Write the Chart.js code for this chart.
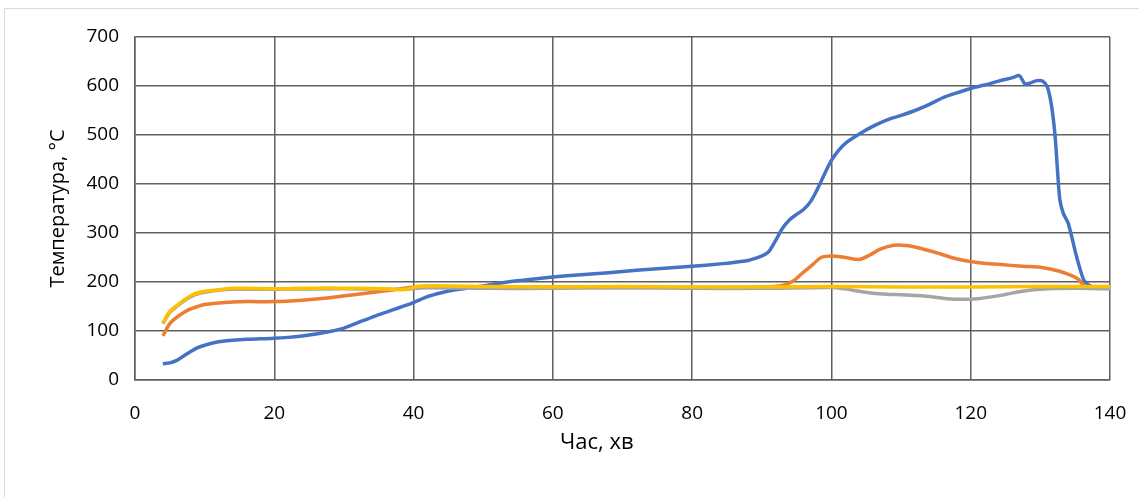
<!DOCTYPE html>
<html>
<head>
<meta charset="utf-8">
<script src="https://cdn.jsdelivr.net/npm/chart.js@4"></script>
<style>
  body { margin: 0; background: #fff; }
  #frame { position: absolute; left: 4px; top: 8px; width: 1140px; height: 500px;
           border-left: 1px solid #d9d9d9; border-top: 1px solid #d9d9d9; }
  #tempChart { position: absolute; left: 0; top: 0; }
</style>
</head>
<body>
<div id="frame"></div>
<canvas id="tempChart" width="1139" height="497"></canvas>
<script>
// Time (min) and temperature (°C)
const blueT = [4, 5, 6, 7, 8, 9, 10, 12, 14, 16, 18, 20, 22, 24, 26, 28, 30, 32, 34, 36, 38, 40, 42, 44, 46, 48, 50, 52, 54, 56, 60, 64, 68, 72, 76, 80, 84, 86, 88, 89, 90, 91, 92, 93, 94, 95, 96, 97, 98, 99, 100, 101, 102, 104, 106, 108, 110, 112, 114, 116, 118, 120, 122, 124, 126, 127, 127.8, 128.5, 129.5, 130.3, 131, 131.6, 132.1, 132.5, 132.8, 133.3, 134, 135.2, 136.2, 136.9, 137.3];
const blueV = [33, 35, 40, 49, 58, 66, 71, 78, 81, 83, 84, 85, 87, 90, 94, 99, 106, 117, 128, 138, 148, 158, 170, 178, 184, 188, 192, 197, 201, 204, 210, 215, 219, 224, 228, 232, 237, 240, 244, 248, 253, 262, 285, 310, 327, 338, 348, 364, 390, 420, 448, 468, 483, 502, 518, 531, 540, 550, 562, 576, 586, 595, 602, 610, 617, 621, 604, 606, 611, 610, 598, 560, 500, 420, 368, 340, 320, 252, 205, 194, 192];

const orangeT = [4, 5, 6, 7, 8, 9, 10, 12, 14, 16, 20, 24, 28, 32, 36, 39, 41, 50, 60, 70, 80, 90, 93, 94.5, 96, 97.5, 98.5, 100, 102, 104, 105.5, 107, 109, 111, 113, 115, 117.5, 119.5, 121.5, 124, 127.5, 130, 132.5, 134.5, 135.5, 136.3];
const orangeV = [90, 115, 128, 138, 145, 150, 154, 157, 159, 160, 160, 163, 168, 175, 182, 188, 191, 190, 190, 190, 189, 190, 193, 202, 220, 238, 250, 253, 250, 246, 255, 267, 275, 274, 268, 260, 249, 243, 239, 236, 232, 230, 223, 213, 205, 191];

const grayT = [4, 5, 6, 7, 8, 9, 10, 12, 14, 20, 30, 39, 41, 50, 60, 70, 80, 90, 100, 102, 104, 106, 108, 110, 113, 116, 118, 121, 124, 127, 130, 135, 140];
const grayV = [115, 138, 150, 161, 170, 176, 179, 183, 185, 185, 186, 185, 188, 187, 187, 188, 187, 187, 189, 186, 181, 177, 175, 174, 172, 167, 165, 166, 172, 180, 185, 187, 186];

const yellowT = [4, 5, 6, 7, 8, 9, 10, 12, 14, 16, 20, 24, 28, 32, 36, 39, 40.5, 44, 50, 60, 70, 80, 90, 100, 110, 120, 130, 140];
const yellowV = [117, 140, 152, 163, 172, 178, 181, 184, 187, 187, 186, 187, 188, 187, 186, 185, 191, 192, 191, 190, 191, 190, 190, 191, 190, 190, 191, 191];

const xTicks = [0, 20, 40, 60, 80, 100, 120, 140];
const yTicks = [0, 100, 200, 300, 400, 500, 600, 700];

function points(ts, vs) {
  return ts.map((t, i) => ({ x: t, y: vs[i] }));
}

function series(ts, vs, color, order) {
  return {
    data: points(ts, vs),
    borderColor: color,
    backgroundColor: color,
    borderWidth: 3.5,
    pointRadius: 0,
    tension: 0.3,
    fill: false,
    order: order
  };
}

const gridColor = "#5f5f5f";
const font = "'Open Sans', sans-serif";

const ctx = document.getElementById("tempChart").getContext("2d");
const tempChart = new Chart(ctx, {
  type: "line",
  data: {
    datasets: [
      series(blueT, blueV, "#4472C4", 3),
      series(orangeT, orangeV, "#ED7D31", 2),
      series(grayT, grayV, "#A5A5A5", 1),
      series(yellowT, yellowV, "#FFC000", 0)
    ]
  },
  options: {
    responsive: false,
    animation: false,
    layout: { padding: { top: 37, right: 29, bottom: 0, left: 0 } },
    plugins: { legend: { display: false }, tooltip: { enabled: false } },
    scales: {
      x: {
        type: "linear",
        min: 0,
        max: 140,
        afterBuildTicks: (s) => { s.ticks = xTicks.map(v => ({ value: v })); },
        afterFit: (s) => { s.height = 117; s.paddingRight = 0; s.paddingLeft = 0; },
        grid: { color: gridColor, lineWidth: 1.5, drawTicks: false },
        border: { color: gridColor, width: 1.5 },
        ticks: { padding: 22, color: "#000", font: { family: font, size: 19 } },
        title: {
          display: true,
          text: "Час, хв         ",
          color: "#000",
          font: { family: font, size: 22 },
          padding: { top: 0, bottom: 41 }
        }
      },
      y: {
        min: 0,
        max: 700,
        afterBuildTicks: (s) => { s.ticks = yTicks.map(v => ({ value: v })); },
        afterFit: (s) => { s.width = 135; },
        grid: { color: gridColor, lineWidth: 1.5, drawTicks: false },
        border: { color: gridColor, width: 1.5 },
        ticks: { padding: 16, color: "#000", font: { family: font, size: 19 } },
        title: {
          display: true,
          text: "Температура, °C",
          color: "#000",
          font: { family: font, size: 20 },
          padding: { top: 46, bottom: 0 }
        }
      }
    }
  }
});
</script>
</body>
</html>
